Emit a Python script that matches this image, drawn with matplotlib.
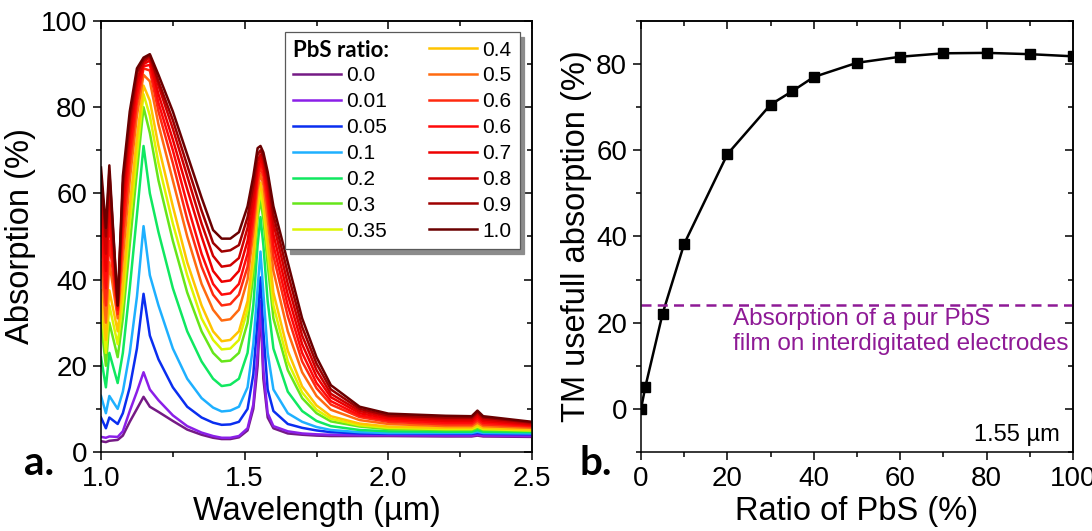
import matplotlib.pyplot as plt
from matplotlib.lines import Line2D
from matplotlib.ticker import MultipleLocator

plt.rcParams['font.family'] = ['Liberation Sans', 'DejaVu Sans']

# panel a: absorption spectra
wavelength = [1.000, 1.017, 1.029, 1.058, 1.076, 1.100, 1.125, 1.148, 1.170, 1.200,
              1.250, 1.300, 1.350, 1.390, 1.420, 1.450, 1.480, 1.510, 1.530, 1.545,
              1.555, 1.565, 1.580, 1.600, 1.650, 1.700, 1.750, 1.800, 1.900, 2.000,
              2.200, 2.290, 2.310, 2.330, 2.500]

abs_000 = [2.5, 2.3, 2.6, 2.8, 3.8, 7.0, 10.0, 12.8, 10.5, 9.3, 7.2, 5.2, 4.0, 3.3, 3.0, 3.0,
           3.4, 5.0, 10.0, 20.0, 33.5, 17.0, 8.0, 5.5, 4.3, 4.0, 3.8, 3.7, 3.7, 3.7,
           3.6, 3.6, 3.8, 3.6, 3.5]
abs_001 = [3.5, 3.3, 3.6, 3.5, 4.8, 9.5, 14.0, 18.5, 14.5, 12.0, 8.5, 6.0, 4.5, 3.7, 3.3, 3.3,
           3.7, 5.5, 11.0, 23.0, 35.0, 19.0, 9.0, 6.0, 4.8, 4.3, 4.1, 4.0, 3.9, 3.9,
           3.8, 3.8, 4.0, 3.8, 3.7]
abs_005 = [8.0, 5.5, 8.0, 6.5, 9.0, 15.0, 24.0, 36.7, 27.0, 21.5, 15.0, 10.5, 8.0, 6.8, 6.3, 6.4,
           7.0, 10.0, 18.0, 31.0, 40.5, 28.0, 14.5, 9.5, 6.5, 5.6, 5.0, 4.6, 4.3, 4.2,
           4.2, 4.2, 4.4, 4.2, 4.1]
abs_010 = [13.0, 9.0, 13.0, 10.0, 14.0, 23.0, 36.0, 52.4, 41.0, 34.0, 24.0, 17.0, 12.5, 10.3, 9.4, 9.6,
           10.5, 15.0, 25.0, 38.0, 46.5, 37.0, 23.0, 14.5, 9.0, 7.0, 5.8, 5.1, 4.6, 4.4,
           4.4, 4.4, 4.7, 4.4, 4.3]
abs_020 = [22.0, 15.0, 23.0, 16.0, 23.0, 38.0, 55.0, 71.0, 60.0, 51.0, 38.0, 28.0, 21.0, 17.0, 15.3, 15.6,
           17.0, 23.0, 34.0, 48.0, 54.5, 48.0, 35.0, 24.0, 14.0, 9.5, 7.2, 6.0, 5.1, 4.8,
           4.7, 4.7, 5.1, 4.7, 4.6]
abs_030 = [30.0, 20.0, 30.0, 22.0, 31.0, 48.0, 65.0, 80.0, 74.0, 63.0, 49.0, 37.0, 28.0, 23.0, 21.0, 21.2,
           23.0, 30.0, 41.0, 54.0, 58.5, 54.0, 43.5, 31.0, 19.0, 12.5, 9.0, 7.1, 5.9, 5.3,
           5.1, 5.1, 5.6, 5.1, 4.9]
abs_035 = [34.0, 23.0, 34.0, 25.0, 35.0, 53.0, 69.0, 83.0, 78.0, 67.0, 53.0, 41.0, 31.0, 26.0, 23.8, 24.0,
           26.0, 33.0, 44.0, 56.0, 60.5, 56.5, 46.5, 34.0, 21.0, 13.8, 9.8, 7.7, 6.2, 5.6,
           5.3, 5.3, 5.9, 5.3, 5.0]
abs_040 = [37.5, 26.0, 37.5, 28.0, 39.0, 57.0, 73.0, 85.0, 81.5, 71.0, 57.0, 44.0, 34.0, 28.0, 25.7, 26.0,
           28.0, 35.0, 46.0, 58.0, 62.5, 59.0, 49.5, 37.0, 23.5, 15.2, 10.8, 8.3, 6.6, 5.9,
           5.6, 5.6, 6.3, 5.6, 5.2]
abs_050 = [44.0, 30.0, 44.0, 31.0, 45.0, 63.0, 78.0, 87.5, 86.0, 76.0, 63.0, 50.0, 39.0, 33.0, 30.5, 30.8,
           33.0, 40.0, 51.0, 61.0, 64.5, 62.0, 54.0, 42.0, 28.0, 18.5, 13.0, 9.8, 7.4, 6.5,
           6.0, 6.0, 6.8, 6.0, 5.6]
abs_060 = [49.0, 34.0, 49.0, 32.0, 50.0, 67.0, 81.0, 89.0, 88.5, 79.0, 67.0, 54.0, 43.0, 36.5, 34.0, 34.3,
           36.5, 43.0, 53.5, 63.0, 66.0, 64.0, 57.0, 45.5, 31.5, 21.0, 14.8, 11.0, 8.1, 7.0,
           6.4, 6.4, 7.3, 6.4, 5.9]
abs_060b = [54.0, 38.0, 54.0, 33.0, 54.0, 70.0, 83.0, 89.5, 89.8, 81.0, 70.0, 57.5, 46.0, 39.0, 36.5, 36.8,
            39.0, 46.0, 55.5, 64.5, 67.0, 65.5, 59.0, 48.0, 34.0, 23.0, 16.0, 11.8, 8.5, 7.4,
            6.8, 6.8, 7.8, 6.8, 6.1]
abs_070 = [58.0, 42.0, 58.0, 33.5, 57.0, 73.0, 85.0, 90.0, 90.8, 83.0, 72.5, 61.0, 50.0, 42.0, 39.5, 39.8,
           42.0, 49.0, 57.5, 66.0, 68.0, 66.5, 61.0, 50.5, 36.5, 25.0, 17.5, 12.7, 9.0, 7.8,
           7.2, 7.2, 8.3, 7.2, 6.3]
abs_080 = [61.0, 46.0, 62.0, 34.0, 60.0, 75.0, 86.5, 90.5, 91.5, 85.0, 75.0, 64.0, 53.0, 45.5, 43.0, 43.3,
           45.0, 52.0, 60.0, 67.5, 69.0, 67.5, 62.5, 53.0, 39.0, 27.0, 19.0, 13.5, 9.5, 8.2,
           7.6, 7.6, 8.8, 7.6, 6.5]
abs_090 = [64.0, 50.0, 65.0, 34.0, 62.0, 77.0, 88.0, 91.0, 92.0, 86.0, 77.0, 66.5, 56.0, 48.5, 46.5, 46.8,
           48.0, 54.5, 62.0, 69.0, 70.0, 68.5, 64.0, 55.0, 41.5, 29.0, 20.5, 14.5, 10.0, 8.5,
           8.0, 8.0, 9.2, 8.0, 6.8]
abs_100 = [66.0, 52.0, 66.5, 34.0, 64.0, 79.0, 89.0, 91.5, 92.3, 87.5, 79.0, 69.0, 59.0, 51.5, 49.5, 49.5,
           51.0, 57.0, 64.0, 70.5, 71.0, 69.5, 65.0, 57.0, 44.0, 31.0, 22.0, 15.5, 10.5, 8.9,
           8.4, 8.3, 9.6, 8.3, 7.0]

ratio_labels = ['0.0', '0.01', '0.05', '0.1', '0.2', '0.3', '0.35',
                '0.4', '0.5', '0.6', '0.6', '0.7', '0.8', '0.9', '1.0']
spectra = [abs_000, abs_001, abs_005, abs_010, abs_020, abs_030, abs_035,
           abs_040, abs_050, abs_060, abs_060b, abs_070, abs_080, abs_090, abs_100]
colors = ['#751a85', '#8b1fe8', '#0a2ef0', '#1eb0ff', '#10e860', '#66e61a', '#ddf500',
          '#ffc400', '#ff6a10', '#ff2a10', '#ff0a0a', '#ee0000', '#d00000', '#9e0000', '#6a0000']

# panel b: TM useful absorption at 1.55 um
pbs_ratio = [0, 1, 5, 10, 20, 30, 35, 40, 50, 60, 70, 80, 90, 100]
tm_absorption = [0.0, 5.1, 22.1, 38.3, 59.1, 70.6, 73.7, 77.0, 80.3, 81.7, 82.5, 82.6, 82.3, 81.8]
pure_pbs_level = 24.0

TICK_FS = 20
LABEL_FS = 23.5
LW_AX = 1.1


def style_axes(ax, xmaj, xmin, ymaj, ymin):
    for s in ax.spines.values():
        s.set_linewidth(LW_AX)
    ax.xaxis.set_major_locator(MultipleLocator(xmaj))
    ax.xaxis.set_minor_locator(MultipleLocator(xmin))
    ax.yaxis.set_major_locator(MultipleLocator(ymaj))
    ax.yaxis.set_minor_locator(MultipleLocator(ymin))
    ax.tick_params(which='both', direction='out', width=LW_AX, labelsize=TICK_FS, pad=4)
    ax.tick_params(which='major', length=6)
    ax.tick_params(which='minor', length=3.5)
    top = ax.secondary_xaxis('top')
    right = ax.secondary_yaxis('right')
    for sec, axis in ((top, top.xaxis), (right, right.yaxis)):
        axis.set_major_locator(MultipleLocator(xmaj if sec is top else ymaj))
        axis.set_minor_locator(MultipleLocator(xmin if sec is top else ymin))
        sec.tick_params(which='both', direction='in', width=LW_AX,
                        labeltop=False, labelright=False)
        sec.tick_params(which='major', length=6)
        sec.tick_params(which='minor', length=3.5)
        for s in sec.spines.values():
            s.set_linewidth(LW_AX)


fig = plt.figure(figsize=(10.92, 5.31), dpi=100)
ax1 = fig.add_axes([0.0925, 0.1488, 0.3947, 0.8117])
ax2 = fig.add_axes([0.587, 0.1488, 0.3956, 0.8117])

lines = []
for vals, col, lab in zip(spectra, colors, ratio_labels):
    ln, = ax1.plot(wavelength, vals, color=col, lw=1.8, label=lab)
    lines.append(ln)
ax1.set_xlim(1.0, 2.5)
ax1.set_ylim(0, 100)
style_axes(ax1, 0.5, 0.25, 20, 10)
ax1.xaxis.set_major_formatter(plt.FormatStrFormatter('%.1f'))
ax1.set_xlabel('Wavelength (µm)', fontsize=LABEL_FS, labelpad=3)
ax1.set_ylabel('Absorption (%)', fontsize=LABEL_FS, labelpad=3)

blank = Line2D([], [], color='none')
leg = ax1.legend([blank] + lines, [''] + ratio_labels, ncol=2, loc='upper left',
                 bbox_to_anchor=(0.427, 0.974), borderaxespad=0, fontsize=15,
                 handlelength=2.3, handletextpad=0.25, columnspacing=2.0,
                 labelspacing=0.33, borderpad=0.4, fancybox=False,
                 edgecolor='0.35', framealpha=1,
                 shadow={'ox': 3.5, 'oy': -3.5, 'shade': 0.45, 'alpha': 1})
leg.get_frame().set_linewidth(0.9)

ax2.plot(pbs_ratio, tm_absorption, color='black', lw=1.8, marker='s', ms=7.5)
ax2.axhline(pure_pbs_level, color='#8e1a96', lw=1.8, ls=(0, (4, 2.5)))
ax2.set_xlim(0, 100)
ax2.set_ylim(-10, 90)
style_axes(ax2, 20, 10, 20, 10)
ax2.set_xlabel('Ratio of PbS (%)', fontsize=LABEL_FS, labelpad=3)
ax2.set_ylabel('TM usefull absorption (%)', fontsize=LABEL_FS, labelpad=3)
ax2.text(21.2, 23.4, 'Absorption of a pur PbS\nfilm on interdigitated electrodes',
         color='#8e1a96', fontsize=17.5, va='top', ha='left', linespacing=1.2)
ax2.text(97, -7.5, '1.55 µm', fontsize=17, ha='right', va='baseline')

fig.text(0.022, 0.105, 'a.', fontsize=29, fontweight='bold', family=['Lato', 'DejaVu Sans'])
fig.text(0.531, 0.105, 'b.', fontsize=29, fontweight='bold', family=['Lato', 'DejaVu Sans'])

# bold heading in the first legend slot
fig.canvas.draw()
r = fig.canvas.get_renderer()
h0 = leg.legend_handles[1].get_window_extent(r)
t0 = leg.get_texts()[8].get_window_extent(r)
fig.text(h0.x0 / fig.bbox.width, (t0.y0 + t0.y1) / 2 / fig.bbox.height, 'PbS ratio:',
         fontsize=16, fontweight='bold', va='center', ha='left',
         family=['Lato', 'DejaVu Sans'])

fig.savefig('out.png', dpi=100)
